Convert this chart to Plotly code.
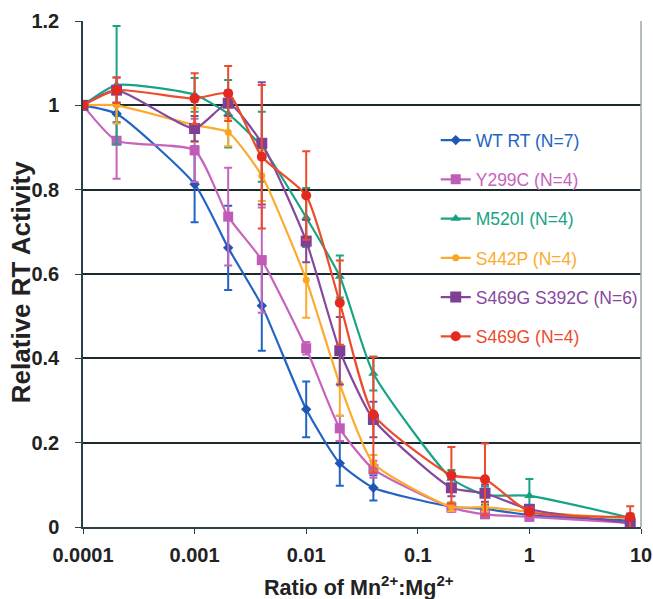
import plotly.graph_objects as go

ratio = [0.0001, 0.0002, 0.001, 0.002, 0.004, 0.01, 0.02, 0.04, 0.2, 0.4, 1, 8]

wt_y = [1.0, 0.98, 0.813, 0.662, 0.525, 0.279, 0.151, 0.093, 0.048, 0.043, 0.028, 0.015]
wt_e = [0, 0.02, 0.09, 0.1, 0.107, 0.066, 0.053, 0.03, 0.01, 0.01, 0.01, 0.005]

y299c_y = [1.0, 0.916, 0.893, 0.736, 0.633, 0.424, 0.234, 0.137, 0.046, 0.030, 0.024, 0.010]
y299c_e = [0, 0.09, 0.075, 0.116, 0.125, 0.015, 0.03, 0.02, 0.01, 0.008, 0.008, 0.005]

m520i_y = [1.0, 1.048, 1.025, 0.98, 0.902, 0.734, 0.594, 0.364, 0.115, 0.076, 0.074, 0.022]
m520i_e = [0, 0.14, 0.04, 0.08, 0.083, 0.07, 0.05, 0.04, 0.02, 0.02, 0.04, 0.01]

s442p_y = [1.0, 1.0, 0.953, 0.936, 0.833, 0.586, 0.339, 0.151, 0.048, 0.047, 0.036, 0.02]
s442p_e = [0, 0.043, 0.04, 0.033, 0.06, 0.09, 0.075, 0.02, 0.01, 0.01, 0.01, 0.005]

s469g_s392c_y = [1.0, 1.036, 0.945, 1.005, 0.91, 0.678, 0.418, 0.255, 0.093, 0.080, 0.042, 0.009]
s469g_s392c_e = [0, 0.03, 0.03, 0.03, 0.145, 0.05, 0.08, 0.042, 0.02, 0.02, 0.01, 0.005]

s469g_y = [1.0, 1.036, 1.016, 1.028, 0.878, 0.786, 0.532, 0.267, 0.123, 0.113, 0.036, 0.024]
s469g_e = [0, 0.03, 0.06, 0.065, 0.17, 0.105, 0.1, 0.137, 0.067, 0.085, 0.01, 0.025]

series_names = ["WT RT (N=7)", "Y299C (N=4)", "M520I (N=4)", "S442P (N=4)",
                "S469G S392C (N=6)", "S469G (N=4)"]

x_tickvals = [0.0001, 0.001, 0.01, 0.1, 1, 10]
x_ticktext = ["0.0001", "0.001", "0.01", "0.1", "1", "10"]

series = [
    (series_names[0], wt_y, wt_e, "#2264c4", "diamond", 8),
    (series_names[1], y299c_y, y299c_e, "#c663bd", "square", 10),
    (series_names[2], m520i_y, m520i_e, "#19a385", "triangle-up", 9),
    (series_names[3], s442p_y, s442p_e, "#fbab2e", "circle", 7),
    (series_names[4], s469g_s392c_y, s469g_s392c_e, "#86489f", "square", 11),
    (series_names[5], s469g_y, s469g_e, "#ec4b2c", "circle", 10),
]
marker_colors = ["#1f55b5", "#c05cb8", "#17a080", "#f9a51e", "#7e3f96", "#e42a1e"]

FONT = "Liberation Sans, Arial, sans-serif"

fig = go.Figure()
for i, (name, ys, es, col, sym, sz) in enumerate(series):
    fig.add_trace(go.Scatter(
        x=ratio, y=ys,
        mode="lines+markers",
        name=f"<span style='color:{col}'>{name}</span>",
        legendgroup=f"g{i}",
        line=dict(color=col, width=2.2, shape="spline", smoothing=0.55),
        marker=dict(symbol=sym, size=sz, color=marker_colors[i]),
        error_y=dict(type="data", array=es, visible=True, color=col,
                     thickness=2, width=4),
    ))

fig.add_shape(type="line", xref="paper", yref="paper", x0=1, x1=1, y0=0, y1=1,
              line=dict(color="#9aa7ad", width=1.5))

fig.add_annotation(
    text="Ratio of Mn<sup>2+</sup>:Mg<sup>2+</sup>",
    xref="paper", yref="paper", x=0.494, y=-0.117,
    xanchor="center", yanchor="middle", showarrow=False,
    font=dict(size=21.5, weight="bold", color="#222222", family=FONT),
)
fig.add_annotation(
    text="Relative RT Activity",
    xref="paper", yref="paper", x=-0.111, y=0.484,
    xanchor="center", yanchor="middle", showarrow=False, textangle=-90,
    font=dict(size=26, weight="bold", color="#222222", family=FONT),
)

fig.update_layout(
    width=653, height=599,
    margin=dict(l=83, r=11, t=21, b=72),
    paper_bgcolor="white", plot_bgcolor="white",
    font=dict(family=FONT, color="#222222"),
    showlegend=True,
    legend=dict(
        x=0.631, y=0.800, xanchor="left", yanchor="top",
        bgcolor="rgba(0,0,0,0)",
        font=dict(size=17.5, family=FONT),
        traceorder="grouped", tracegroupgap=13.5,
        itemwidth=30,
    ),
    xaxis=dict(
        type="log", range=[-4, 1], automargin=False,
        tickvals=x_tickvals, ticktext=x_ticktext,
        showgrid=False, zeroline=False,
        showline=True, linecolor="#2a3f48", linewidth=1.5,
        ticks="outside", ticklen=5, tickcolor="#2a3f48",
        ticklabelstandoff=4,
        tickfont=dict(size=20, weight="bold", color="#222222"),
    ),
    yaxis=dict(
        range=[0, 1.2], dtick=0.2, automargin=False,
        showgrid=True, gridcolor="#1c2a30", gridwidth=1.5,
        zeroline=False,
        showline=True, linecolor="#2a3f48", linewidth=1.5,
        ticks="outside", ticklen=6, tickcolor="#2a3f48",
        ticklabelstandoff=12,
        tickfont=dict(size=20, weight="bold", color="#222222"),
    ),
)

fig.write_html("out.html", config={"displayModeBar": False},
               post_script="document.body.style.margin='0';")
